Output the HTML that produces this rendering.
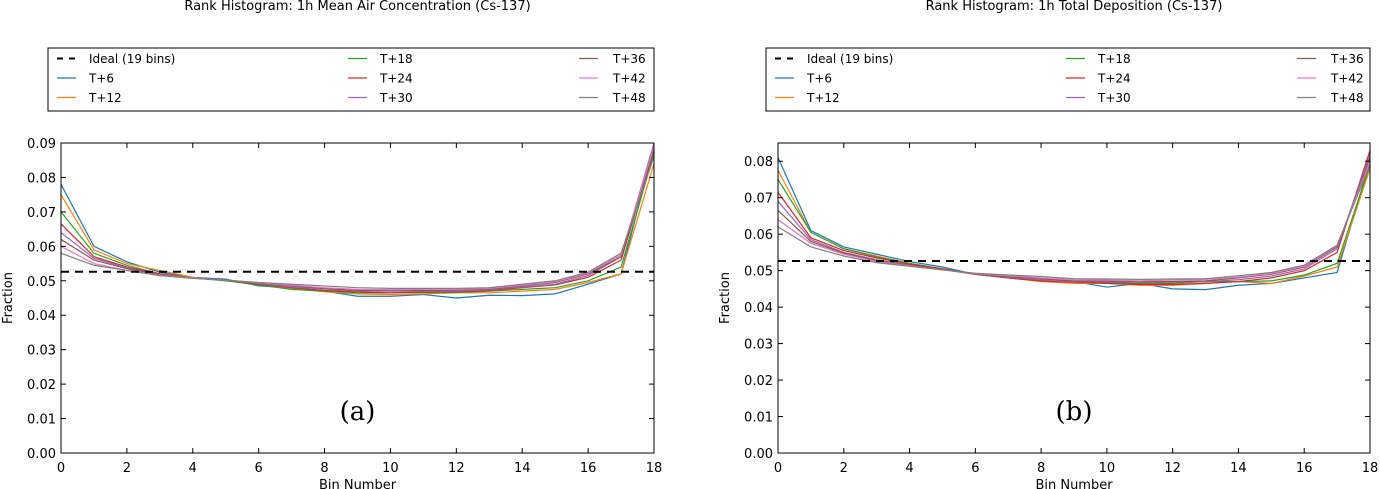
<!DOCTYPE html>
<html><head><meta charset="utf-8"><style>
body{margin:0;background:#fff;}
svg{display:block;font-family:"DejaVu Sans","Liberation Sans",sans-serif;}
</style></head><body>
<svg id="fig" width="1380" height="489" viewBox="0 0 1380 489" xmlns="http://www.w3.org/2000/svg"></svg>
<script>
const bins = [0,1,2,3,4,5,6,7,8,9,10,11,12,13,14,15,16,17,18];
const seriesNames = ["T+6","T+12","T+18","T+24","T+30","T+36","T+42","T+48"];
const idealValue = 1/19;
const yTicksA = [0,0.01,0.02,0.03,0.04,0.05,0.06,0.07,0.08,0.09];
const yTicksB = [0,0.01,0.02,0.03,0.04,0.05,0.06,0.07,0.08];
const xTicks = [0,2,4,6,8,10,12,14,16,18];
const airT6 =[.078,.060,.0555,.0525,.051,.0505,.0485,.048,.047,.0455,.0455,.046,.045,.0458,.0457,.0462,.049,.052,.089];
const airT12=[.075,.059,.055,.053,.051,.050,.0488,.0478,.0468,.0462,.046,.0462,.0465,.0465,.047,.0475,.0495,.052,.084];
const airT18=[.070,.058,.0545,.052,.0508,.050,.0488,.0475,.047,.0465,.0465,.0466,.0466,.047,.0475,.048,.050,.054,.087];
const airT24=[.0665,.057,.054,.052,.0508,.0502,.049,.048,.0472,.0468,.0465,.0468,.0468,.0472,.048,.0488,.051,.056,.088];
const airT30=[.064,.0565,.0538,.0518,.0508,.0502,.0492,.0482,.0476,.047,.047,.047,.047,.0475,.0482,.049,.0515,.057,.090];
const airT36=[.062,.056,.0535,.0518,.0508,.0502,.0493,.0485,.0478,.0472,.0472,.0472,.0473,.0477,.0485,.0495,.052,.057,.088];
const airT42=[.060,.055,.053,.0516,.0508,.0502,.0494,.0487,.048,.0475,.0474,.0475,.0475,.0478,.0487,.0497,.0522,.0575,.089];
const airT48=[.058,.0545,.053,.0515,.0507,.0502,.0495,.049,.0485,.048,.0478,.0478,.0478,.048,.049,.050,.0525,.058,.086];
const depT6 =[.081,.061,.0565,.0545,.0525,.051,.049,.048,.0475,.047,.0455,.0465,.045,.0448,.046,.0465,.048,.0495,.080];
const depT12=[.0775,.0605,.056,.054,.052,.0505,.049,.048,.047,.0465,.0465,.046,.046,.0465,.047,.0465,.0485,.051,.078];
const depT18=[.075,.0605,.056,.0538,.052,.0505,.049,.048,.0472,.047,.0468,.0465,.0465,.047,.047,.0472,.0488,.052,.079];
const depT24=[.0715,.059,.0555,.0535,.0518,.0505,.049,.048,.0472,.0468,.0465,.0462,.0462,.0465,.047,.048,.050,.055,.083];
const depT30=[.069,.0585,.055,.053,.0515,.0503,.049,.0482,.0475,.047,.047,.0468,.0468,.047,.0475,.0485,.0505,.056,.082];
const depT36=[.0665,.058,.0548,.0528,.0515,.0503,.049,.0484,.0478,.0472,.0472,.047,.047,.0472,.048,.049,.051,.0565,.081];
const depT42=[.064,.0575,.0545,.0525,.0513,.0502,.0492,.0486,.048,.0475,.0474,.0472,.0474,.0476,.0482,.0492,.0512,.0568,.080];
const depT48=[.062,.0565,.054,.0522,.0512,.0502,.0493,.0488,.0484,.0478,.0477,.0476,.0477,.0478,.0486,.0495,.0515,.057,.079];

const colors=["#1f77b4","#ff7f0e","#2ca02c","#d62728","#9467bd","#8c564b","#e377c2","#7f7f7f"];
const NS="http://www.w3.org/2000/svg";
const svg=document.getElementById('fig');
function mk(tag,attrs,parent,text){const e=document.createElementNS(NS,tag);for(const k in attrs)e.setAttribute(k,attrs[k]);if(text!==undefined)e.textContent=text;(parent||svg).appendChild(e);return e;}

function panel(cfg){
  const g=mk('g',{});
  
  
  const L=cfg.x0,R=cfg.x1,T=143,B=453;
  const sx=v=>L+(v-0)/(18-0)*(R-L);
  const sy=v=>B-(v/cfg.ymax)*(B-T);
  const t=mk('text',{x:(L+R)/2,y:10,'text-anchor':'middle','font-size':13,fill:'#000'},g,cfg.title);
  
  
  // series
  cfg.series.forEach((arr,i)=>{
    const p=mk('polyline',{points:arr.map((v,j)=>sx(bins[j])+','+sy(v)).join(' '),fill:'none',stroke:colors[i],'stroke-width':1.2},g);
    
    
  });
  const id=mk('line',{x1:L,x2:R,y1:sy(idealValue),y2:sy(idealValue),stroke:'#000','stroke-width':2,'stroke-dasharray':'8,6'},g);
  
  
  // frame
  const fr=mk('rect',{x:L,y:T,width:R-L,height:B-T,fill:'none',stroke:'#000','stroke-width':1},g);
  
  
  xTicks.forEach(v=>{
    const x=sx(v);
    mk('line',{x1:x,x2:x,y1:B,y2:B-5,stroke:'#000'},g);
    mk('line',{x1:x,x2:x,y1:T,y2:T+5,stroke:'#000'},g);
    const tl=mk('text',{x:x,y:472,'text-anchor':'middle','font-size':13},g,String(v));
    
    
  });
  cfg.yticks.forEach(v=>{
    const y=sy(v);
    mk('line',{x1:L,x2:L+5,y1:y,y2:y,stroke:'#000'},g);
    mk('line',{x1:R,x2:R-5,y1:y,y2:y,stroke:'#000'},g);
    const tl=mk('text',{x:L-5,y:y+5,'text-anchor':'end','font-size':13},g,v.toFixed(2));
    
    
  });
  const xl=mk('text',{x:(L+R)/2,y:489,'text-anchor':'middle','font-size':13},g,'Bin Number');
  
  
  const yl=mk('text',{x:0,y:0,'text-anchor':'middle','font-size':13,transform:'translate('+(cfg.x0-49)+','+((T+B)/2)+') rotate(-90)'},g,'Fraction');
  
  
  const pl=mk('text',{x:sx(cfg.labelX),y:420,'text-anchor':'middle','font-size':26,'font-family':'"DejaVu Serif","Liberation Serif",serif'},g,cfg.label);
  
  
  // legend
  const lx=cfg.legX;
  const lg=mk('g',{},g);
  
  
  mk('rect',{x:lx,y:48,width:R-lx,height:63,fill:'#fff',stroke:'#000','stroke-width':1},lg);
  const rows=[58.5,78,97.5];
  const cols=[[lx+9,lx+41],[lx+300,lx+332],[lx+531,lx+565]];
  const items=[{n:'Ideal (19 bins)',c:'#000',d:true}].concat(seriesNames.map((n,i)=>({n:n,c:colors[i]})));
  items.forEach((it,k)=>{
    const c=Math.floor(k/3),r=k%3;
    const ent=mk('g',{},lg);
    
    
    const x=cols[c][0],y=rows[r];
    mk('line',{x1:x,x2:x+19,y1:y,y2:y,stroke:it.c,'stroke-width':it.d?2:1.2,'stroke-dasharray':it.d?'6,6':'none'},ent);
    mk('text',{x:cols[c][1],y:y+4.5,'font-size':12},ent,it.n);
  });
}
panel({name:'panel-a-air-concentration',x0:61,x1:654,ymax:0.09,yticks:yTicksA,title:'Rank Histogram: 1h Mean Air Concentration (Cs-137)',label:'(a)',labelX:9,legX:48,
  series:[airT6,airT12,airT18,airT24,airT30,airT36,airT42,airT48]});
panel({name:'panel-b-total-deposition',x0:778,x1:1370,ymax:0.085,yticks:yTicksB,title:'Rank Histogram: 1h Total Deposition (Cs-137)',label:'(b)',labelX:9,legX:766,
  series:[depT6,depT12,depT18,depT24,depT30,depT36,depT42,depT48]});
</script>
</body></html>
